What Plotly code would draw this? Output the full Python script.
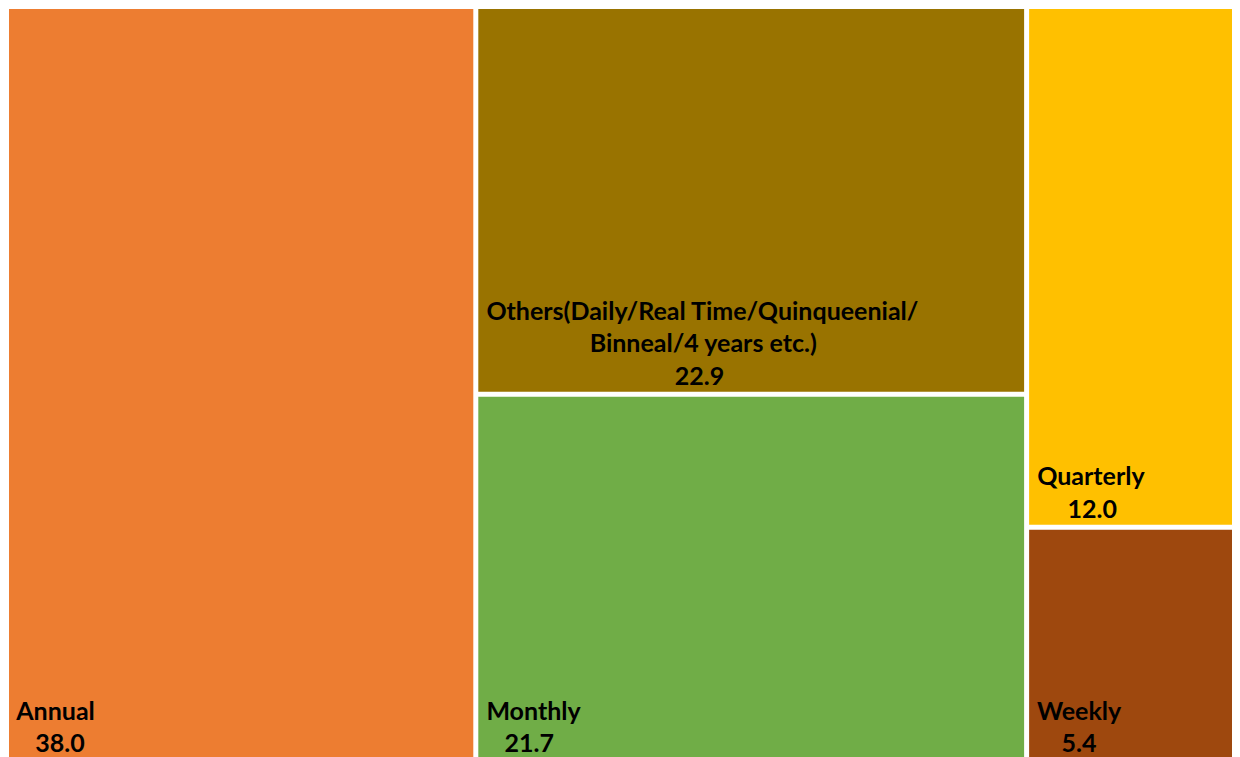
import plotly.graph_objects as go

labels = ["Annual", "Others(Daily/Real Time/Quinqueenial/<br>Binneal/4 years etc.)", "Monthly", "Quarterly", "Weekly"]
values = [38.0, 22.9, 21.7, 12.0, 5.4]
colors = ["#ED7D31", "#997300", "#70AD47", "#FFC000", "#9E480E"]

NB = "\u00a0"
# padding (non-breaking spaces) to centre each line under the first one, as in the reference
line_pads = [[1, 4], [1, 18, 32], [1, 4], [1, 6], [1, 5]]

texts = []
for lab, v, pads in zip(labels, values, line_pads):
    lines = lab.split("<br>") + [f"{v:.1f}"]
    texts.append("<br>".join(NB * p + l for p, l in zip(pads, lines)))

fig = go.Figure(go.Treemap(
    labels=labels,
    parents=[""] * len(labels),
    values=values,
    text=texts,
    textinfo="text",
    textposition="bottom left",
    textfont=dict(family="Lato", size=25, color="black", weight="bold"),
    marker=dict(colors=colors, line=dict(color="white", width=2),
                pad=dict(t=0, l=0, r=0, b=0)),
    pathbar=dict(visible=False),
    sort=True,
    hoverinfo="label+value",
))

fig.update_layout(
    width=1232, height=752,
    margin=dict(l=0, r=0, t=0, b=0),
    paper_bgcolor="white",
)

fig.write_html("out.html")
